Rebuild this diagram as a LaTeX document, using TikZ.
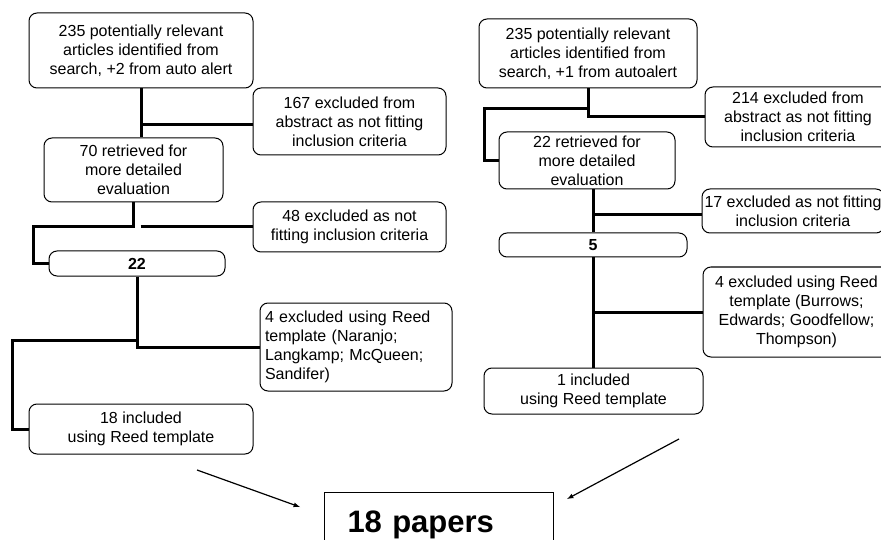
\documentclass[tikz,border=0pt]{standalone}
\usepackage{fontspec}
\setmainfont{Liberation Sans}

\begin{document}
\begin{tikzpicture}[>=latex, x=1pt, y=-1pt,
	every node/.style = {font=\fontsize{16}{19}\selectfont},
	stage/.style = {draw, rounded corners=8pt, line width=1pt, align=center, inner sep=0pt},
	flow/.style = {line width=3pt},
	merge/.style = {->, line width=1.2pt}]

	\useasboundingbox (0,0) rectangle (881,540);

	\node [stage, minimum width=224pt, minimum height=75pt] (foundL) at (141,50.5)
		{235 potentially relevant\\articles identified from\\search, +2 from auto alert};
	\node [stage, minimum width=193pt, minimum height=67pt] (abstractL) at (349.5,121.5)
		{167 excluded from\\abstract as not fitting\\inclusion criteria};
	\node [stage, minimum width=179pt, minimum height=64pt] (retrievedL) at (133.5,170)
		{70 retrieved for\\more detailed\\evaluation};
	\node [stage, minimum width=193pt, minimum height=50pt] (criteriaL) at (349.5,227)
		{48 excluded as not\\fitting inclusion criteria};
	\node [stage, minimum width=176pt, minimum height=25pt, font=\fontsize{16}{19}\selectfont\bfseries] (keptL) at (137,263.5) {22};
	\node [stage, align=left, text width=182pt, inner xsep=5pt, minimum height=88pt] (reedoutL) at (356,347)
		{4 excluded using Reed\\template (Naranjo;\\Langkamp; McQueen;\\Sandifer)};
	\node [stage, minimum width=224pt, minimum height=50pt] (includedL) at (141,429)
		{18 included\\using Reed template};

	\node [stage, minimum width=218pt, minimum height=69pt] (foundR) at (588,53.5)
		{235 potentially relevant\\articles identified from\\search, +1 from autoalert};
	\node [stage, minimum width=186pt, minimum height=60pt] (abstractR) at (798,117)
		{214 excluded from\\abstract as not fitting\\inclusion criteria};
	\node [stage, minimum width=176pt, minimum height=57pt] (retrievedR) at (587,160.5)
		{22 retrieved for\\more detailed\\evaluation};
	\node [stage, minimum width=182pt, minimum height=44pt] (criteriaR) at (793,211)
		{17 excluded as not fitting\\inclusion criteria};
	\node [stage, minimum width=188pt, minimum height=24pt, font=\fontsize{16}{19}\selectfont\bfseries] (keptR) at (593,245) {5};
	\node [stage, minimum width=187pt, minimum height=90pt] (reedoutR) at (796.5,312)
		{4 excluded using Reed\\template (Burrows;\\Edwards; Goodfellow;\\Thompson)};
	\node [stage, minimum width=219pt, minimum height=46pt] (includedR) at (593.5,391)
		{1 included\\using Reed template};

	\node [draw, line width=1pt, anchor=north west, align=left, text width=183pt, inner xsep=23pt,
		minimum height=64pt, font=\fontsize{31}{36}\selectfont\bfseries] (papers) at (324,492) {18 papers};

	\coordinate (bendA) at (33,227);
	\coordinate (bendB) at (12,340);
	\coordinate (bendC) at (484,109);

	\draw [flow] (foundL.south) -- (foundL.south |- retrievedL.north);
	\draw [flow] (foundL.south |- abstractL.west) ++(0,3.5) -- ([yshift=-3.5pt]abstractL.west);
	\draw [flow] (retrievedL.south) |- (bendA) |- (keptL.west);
	\draw [flow] ([xshift=7pt]retrievedL.south |- criteriaL.west) -- (criteriaL.west);
	\draw [flow] (keptL.south) |- (reedoutL.west);
	\draw [flow] (keptL.south |- bendB) -- (bendB) |- (includedL.west);

	\draw [flow] (foundR.south) |- (abstractR.west);
	\draw [flow] (foundR.south |- bendC) -- (bendC) |- (retrievedR.west);
	\draw [flow] (keptR.north |- retrievedR.south) -- (keptR.north);
	\draw [flow] (keptR.north |- criteriaR.west) ++(0,4) -- ([yshift=-4pt]criteriaR.west);
	\draw [flow] (keptR.south) -- (keptR.south |- includedR.north);
	\draw [flow] (keptR.south |- reedoutR.west) -- (reedoutR.west);

	\coordinate (fromL) at (197,470);
	\coordinate (toL) at (300,507);
	\coordinate (fromR) at (679,439);
	\coordinate (toR) at (567,499);
	\draw [merge] (fromL) -- (toL);
	\draw [merge] (fromR) -- (toR);

\end{tikzpicture}
\end{document}
